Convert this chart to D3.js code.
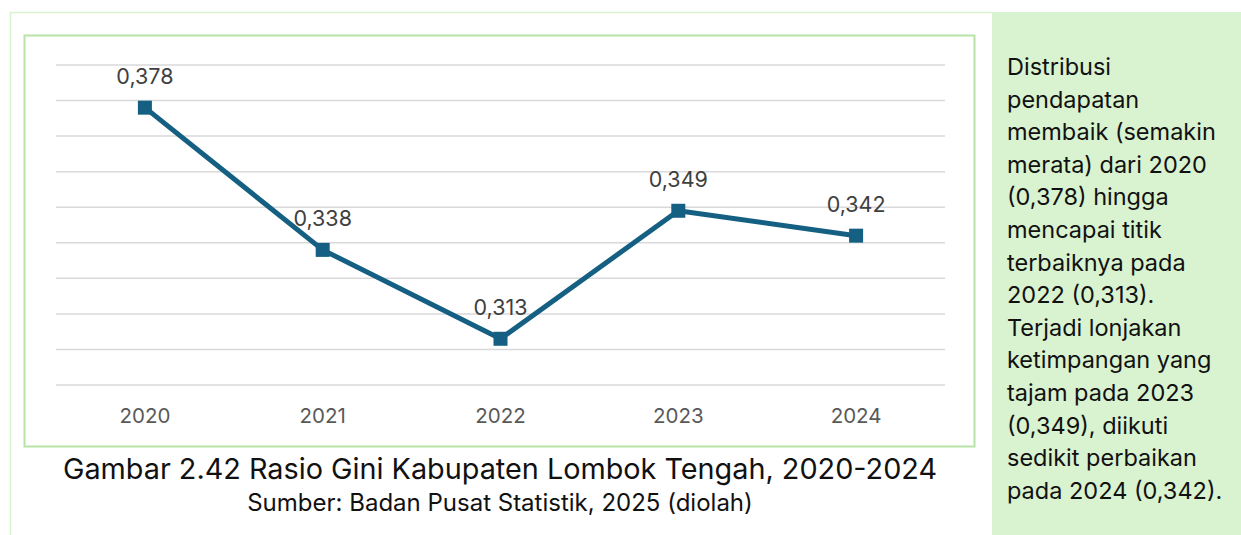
<!DOCTYPE html>
<html>
<head>
<meta charset="utf-8">
<script src="https://cdn.jsdelivr.net/npm/d3@7"></script>
<style>
  body { margin: 0; background: #fff; }
  svg { display: block; }
</style>
</head>
<body>
<svg width="1241" height="535"></svg>
<script>
var years = ['2020', '2021', '2022', '2023', '2024'];
var gini = [0.378, 0.338, 0.313, 0.349, 0.342];
var gridValues = [0.30, 0.31, 0.32, 0.33, 0.34, 0.35, 0.36, 0.37, 0.38, 0.39];
var noteLines = [
  'Distribusi',
  'pendapatan',
  'membaik (semakin',
  'merata) dari 2020',
  '(0,378) hingga',
  'mencapai titik',
  'terbaiknya pada',
  '2022 (0,313).',
  'Terjadi lonjakan',
  'ketimpangan yang',
  'tajam pada 2023',
  '(0,349), diikuti',
  'sedikit perbaikan',
  'pada 2024 (0,342).'
];

var svg = d3.select('svg');
var font = 'Inter, "Noto Sans", sans-serif';

// outer frame
svg.append('path')
    .attr('d', 'M10.5,535 L10.5,12.5 L992,12.5')
    .style('fill', 'none')
    .style('stroke', '#d9f2d0')
    .style('stroke-width', 1.5);

// side note panel
svg.append('rect')
    .attr('x', 992)
    .attr('y', 12)
    .attr('width', 249)
    .attr('height', 523)
    .style('fill', '#d9f2d0');

svg.append('g')
    .selectAll('text')
    .data(noteLines)
    .join('text')
    .attr('x', 1007)
    .attr('y', function(d, i) { return 75 + i * 32.6; })
    .text(function(d) { return d; })
    .style('font-family', font)
    .style('font-size', '23.5px')
    .style('fill', '#111');

// chart box
svg.append('rect')
    .attr('x', 24.5)
    .attr('y', 35.5)
    .attr('width', 950)
    .attr('height', 411)
    .style('fill', '#fff')
    .style('stroke', '#b7e3a6')
    .style('stroke-width', 2);

var x = d3.scaleBand().domain(years).range([56, 945]);
var y = d3.scaleLinear().domain([0.30, 0.39]).range([385, 65]);

svg.append('g')
    .selectAll('line')
    .data(gridValues)
    .join('line')
    .attr('x1', 56)
    .attr('x2', 945)
    .attr('y1', function(d) { return y(d); })
    .attr('y2', function(d) { return y(d); })
    .style('stroke', '#d9d9d9')
    .style('stroke-width', 1.5);

var xAxis = svg.append('g')
    .attr('transform', 'translate(0,' + 385 + ')')
    .call(d3.axisBottom(x).tickSize(0).tickPadding(23));
xAxis.select('.domain').remove();
xAxis.selectAll('text')
    .style('font-family', font)
    .style('font-size', '20.5px')
    .style('fill', '#595959');

var cx = function(d, i) { return x(years[i]) + x.bandwidth() / 2; };

var line = d3.line()
    .x(cx)
    .y(function(d) { return y(d); });

svg.append('path')
    .datum(gini)
    .attr('d', line)
    .style('fill', 'none')
    .style('stroke', '#156082')
    .style('stroke-width', 5)
    .style('stroke-linejoin', 'round');

svg.append('g')
    .selectAll('rect')
    .data(gini)
    .join('rect')
    .attr('x', function(d, i) { return cx(d, i) - 7; })
    .attr('y', function(d) { return y(d) - 7; })
    .attr('width', 14)
    .attr('height', 14)
    .style('fill', '#156082');

svg.append('g')
    .selectAll('text')
    .data(gini)
    .join('text')
    .attr('x', cx)
    .attr('y', function(d) { return y(d) - 24; })
    .attr('text-anchor', 'middle')
    .text(function(d) { return d.toFixed(3).replace('.', ','); })
    .style('font-family', font)
    .style('font-size', '21.5px')
    .style('fill', '#404040');

// caption
svg.append('text')
    .attr('x', 500)
    .attr('y', 479)
    .attr('text-anchor', 'middle')
    .text('Gambar 2.42 Rasio Gini Kabupaten Lombok Tengah, 2020-2024')
    .style('font-family', font)
    .style('font-size', '28.8px')
    .style('fill', '#111');

svg.append('text')
    .attr('x', 500)
    .attr('y', 511)
    .attr('text-anchor', 'middle')
    .text('Sumber: Badan Pusat Statistik, 2025 (diolah)')
    .style('font-family', font)
    .style('font-size', '24px')
    .style('fill', '#111');
</script>
</body>
</html>
